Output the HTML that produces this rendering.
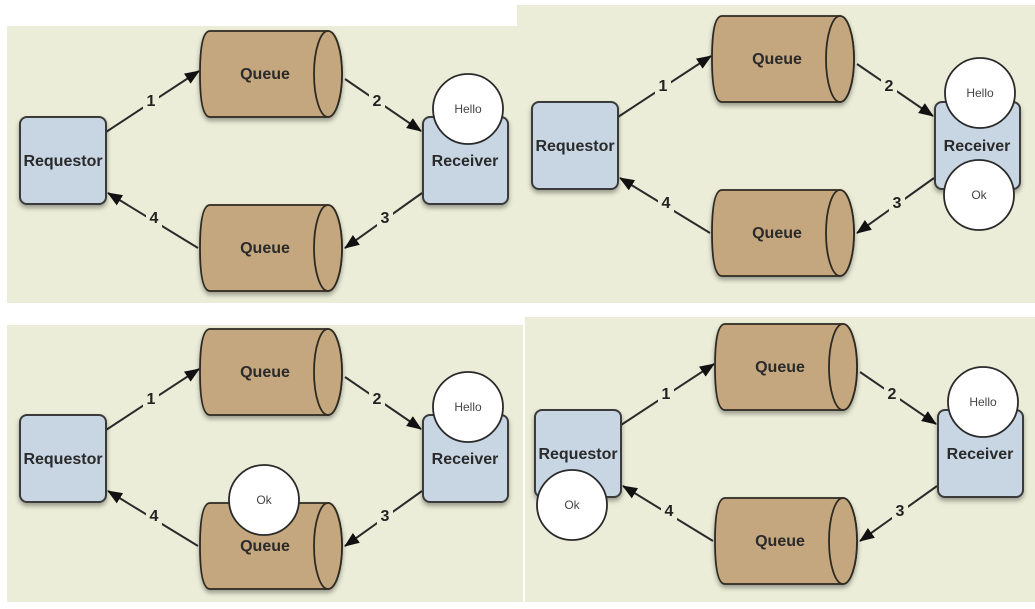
<!DOCTYPE html>
<html><head><meta charset="utf-8"><style>
html,body{margin:0;padding:0;background:#fff;width:1035px;height:609px;overflow:hidden}
svg{display:block}
.b{font-family:"Liberation Sans",sans-serif;font-weight:bold;font-size:16px;fill:#2a2a2a;text-anchor:middle}
.n{font-family:"Liberation Sans",sans-serif;font-weight:bold;font-size:16px;fill:#222;text-anchor:middle}
.c{font-family:"Liberation Sans",sans-serif;font-size:12px;fill:#444;text-anchor:middle}
.q{fill:#c4a77e;stroke:#2e2a22;stroke-width:1.8}
.box{fill:#c8d6e4;stroke:#3a3a3a;stroke-width:2}
.ln{stroke:#2a2a2a;stroke-width:2;fill:none}
.lb{fill:#ebedd8}
.ci{fill:#fff;stroke:#2a2a2a;stroke-width:1.8}
</style></head><body>
<svg width="1035" height="609" viewBox="0 0 1035 609" xmlns="http://www.w3.org/2000/svg">
<defs>
<marker id="ah" markerWidth="15" markerHeight="12" refX="14" refY="6" orient="auto" markerUnits="userSpaceOnUse" viewBox="0 0 15 12">
<path d="M0,0 L15,6 L0,12 z" fill="#111"/>
</marker>
<filter id="sh" x="-20%" y="-20%" width="140%" height="150%"><feDropShadow dx="0" dy="3" stdDeviation="2.5" flood-color="#000" flood-opacity="0.35"/></filter>
</defs>
<rect x="7" y="26" width="510" height="277" fill="#ebedd8"/>
<rect x="517" y="5" width="518" height="298" fill="#ebedd8"/>
<rect x="7" y="325" width="516" height="277" fill="#ebedd8"/>
<rect x="525" y="317" width="510" height="285" fill="#ebedd8"/>

<!-- Panel 1 -->
<g transform="translate(0,0)">
<line class="ln" x1="106" y1="132" x2="199" y2="71" marker-end="url(#ah)"/>
<line class="ln" x1="345" y1="79" x2="421" y2="131" marker-end="url(#ah)"/>
<line class="ln" x1="422" y1="193" x2="345" y2="248" marker-end="url(#ah)"/>
<line class="ln" x1="198" y1="248" x2="108" y2="193" marker-end="url(#ah)"/>
<rect class="lb" x="143" y="90" width="16" height="20"/><text class="n" x="151" y="106">1</text>
<rect class="lb" x="369" y="90" width="16" height="20"/><text class="n" x="377" y="106">2</text>
<rect class="lb" x="377" y="207" width="16" height="20"/><text class="n" x="385" y="223">3</text>
<rect class="lb" x="146" y="207" width="16" height="20"/><text class="n" x="154" y="223">4</text>
<rect class="box" x="20" y="117" width="86" height="87" rx="7" filter="url(#sh)"/><text class="b" x="63" y="166">Requestor</text>
<rect class="box" x="423" y="117" width="85" height="87" rx="7" filter="url(#sh)"/><text class="b" x="465" y="166">Receiver</text>
<g filter="url(#sh)"><path class="q" d="M210,31 L328,31 A14,43 0 0 1 328,117 L210,117 Q200,117 200,74 Q200,31 210,31 z"/><ellipse class="q" cx="328" cy="74" rx="14" ry="43"/></g>
<text class="b" x="265" y="79">Queue</text>
<g filter="url(#sh)"><path class="q" d="M210,205 L328,205 A14,43 0 0 1 328,291 L210,291 Q200,291 200,248 Q200,205 210,205 z"/><ellipse class="q" cx="328" cy="248" rx="14" ry="43"/></g>
<text class="b" x="265" y="253">Queue</text>
<circle class="ci" cx="468" cy="109" r="35"/><text class="c" x="468" y="113">Hello</text>
</g>

<!-- Panel 2 -->
<g transform="translate(512,-15)">
<line class="ln" x1="106" y1="132" x2="199" y2="71" marker-end="url(#ah)"/>
<line class="ln" x1="345" y1="79" x2="421" y2="131" marker-end="url(#ah)"/>
<line class="ln" x1="422" y1="193" x2="345" y2="248" marker-end="url(#ah)"/>
<line class="ln" x1="198" y1="248" x2="108" y2="193" marker-end="url(#ah)"/>
<rect class="lb" x="143" y="90" width="16" height="20"/><text class="n" x="151" y="106">1</text>
<rect class="lb" x="369" y="90" width="16" height="20"/><text class="n" x="377" y="106">2</text>
<rect class="lb" x="377" y="207" width="16" height="20"/><text class="n" x="385" y="223">3</text>
<rect class="lb" x="146" y="207" width="16" height="20"/><text class="n" x="154" y="223">4</text>
<rect class="box" x="20" y="117" width="86" height="87" rx="7" filter="url(#sh)"/><text class="b" x="63" y="166">Requestor</text>
<rect class="box" x="423" y="117" width="85" height="87" rx="7" filter="url(#sh)"/><text class="b" x="465" y="166">Receiver</text>
<g filter="url(#sh)"><path class="q" d="M210,31 L328,31 A14,43 0 0 1 328,117 L210,117 Q200,117 200,74 Q200,31 210,31 z"/><ellipse class="q" cx="328" cy="74" rx="14" ry="43"/></g>
<text class="b" x="265" y="79">Queue</text>
<g filter="url(#sh)"><path class="q" d="M210,205 L328,205 A14,43 0 0 1 328,291 L210,291 Q200,291 200,248 Q200,205 210,205 z"/><ellipse class="q" cx="328" cy="248" rx="14" ry="43"/></g>
<text class="b" x="265" y="253">Queue</text>
<circle class="ci" cx="468" cy="108" r="35"/><text class="c" x="468" y="112">Hello</text>
<circle class="ci" cx="467" cy="210" r="35"/><text class="c" x="467" y="214">Ok</text>
</g>

<!-- Panel 3 -->
<g transform="translate(0,298)">
<line class="ln" x1="106" y1="132" x2="199" y2="71" marker-end="url(#ah)"/>
<line class="ln" x1="345" y1="79" x2="421" y2="131" marker-end="url(#ah)"/>
<line class="ln" x1="422" y1="193" x2="345" y2="248" marker-end="url(#ah)"/>
<line class="ln" x1="198" y1="248" x2="108" y2="193" marker-end="url(#ah)"/>
<rect class="lb" x="143" y="90" width="16" height="20"/><text class="n" x="151" y="106">1</text>
<rect class="lb" x="369" y="90" width="16" height="20"/><text class="n" x="377" y="106">2</text>
<rect class="lb" x="377" y="207" width="16" height="20"/><text class="n" x="385" y="223">3</text>
<rect class="lb" x="146" y="207" width="16" height="20"/><text class="n" x="154" y="223">4</text>
<rect class="box" x="20" y="117" width="86" height="87" rx="7" filter="url(#sh)"/><text class="b" x="63" y="166">Requestor</text>
<rect class="box" x="423" y="117" width="85" height="87" rx="7" filter="url(#sh)"/><text class="b" x="465" y="166">Receiver</text>
<g filter="url(#sh)"><path class="q" d="M210,31 L328,31 A14,43 0 0 1 328,117 L210,117 Q200,117 200,74 Q200,31 210,31 z"/><ellipse class="q" cx="328" cy="74" rx="14" ry="43"/></g>
<text class="b" x="265" y="79">Queue</text>
<g filter="url(#sh)"><path class="q" d="M210,205 L328,205 A14,43 0 0 1 328,291 L210,291 Q200,291 200,248 Q200,205 210,205 z"/><ellipse class="q" cx="328" cy="248" rx="14" ry="43"/></g>
<text class="b" x="265" y="253">Queue</text>
<circle class="ci" cx="468" cy="109" r="35"/><text class="c" x="468" y="113">Hello</text>
<circle class="ci" cx="264" cy="202" r="35"/><text class="c" x="264" y="206">Ok</text>
</g>

<!-- Panel 4 -->
<g transform="translate(515,293)">
<line class="ln" x1="106" y1="132" x2="199" y2="71" marker-end="url(#ah)"/>
<line class="ln" x1="345" y1="79" x2="421" y2="131" marker-end="url(#ah)"/>
<line class="ln" x1="422" y1="193" x2="345" y2="248" marker-end="url(#ah)"/>
<line class="ln" x1="198" y1="248" x2="108" y2="193" marker-end="url(#ah)"/>
<rect class="lb" x="143" y="90" width="16" height="20"/><text class="n" x="151" y="106">1</text>
<rect class="lb" x="369" y="90" width="16" height="20"/><text class="n" x="377" y="106">2</text>
<rect class="lb" x="377" y="207" width="16" height="20"/><text class="n" x="385" y="223">3</text>
<rect class="lb" x="146" y="207" width="16" height="20"/><text class="n" x="154" y="223">4</text>
<rect class="box" x="20" y="117" width="86" height="87" rx="7" filter="url(#sh)"/><text class="b" x="63" y="166">Requestor</text>
<rect class="box" x="423" y="117" width="85" height="87" rx="7" filter="url(#sh)"/><text class="b" x="465" y="166">Receiver</text>
<g filter="url(#sh)"><path class="q" d="M210,31 L328,31 A14,43 0 0 1 328,117 L210,117 Q200,117 200,74 Q200,31 210,31 z"/><ellipse class="q" cx="328" cy="74" rx="14" ry="43"/></g>
<text class="b" x="265" y="79">Queue</text>
<g filter="url(#sh)"><path class="q" d="M210,205 L328,205 A14,43 0 0 1 328,291 L210,291 Q200,291 200,248 Q200,205 210,205 z"/><ellipse class="q" cx="328" cy="248" rx="14" ry="43"/></g>
<text class="b" x="265" y="253">Queue</text>
<circle class="ci" cx="468" cy="109" r="35"/><text class="c" x="468" y="113">Hello</text>
<circle class="ci" cx="57" cy="212" r="35"/><text class="c" x="57" y="216">Ok</text>
</g>
</svg>
</body></html>
